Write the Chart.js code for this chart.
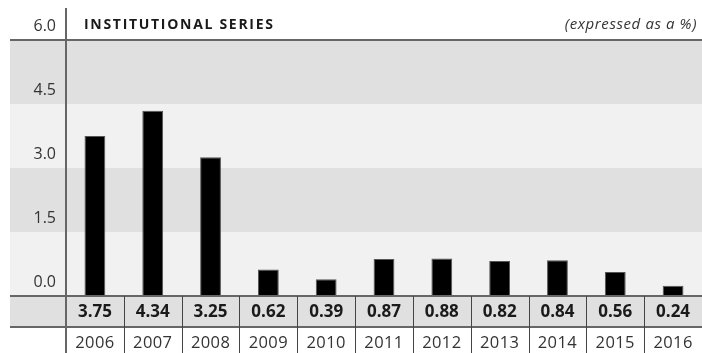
<!DOCTYPE html>
<html>
<head>
<meta charset="utf-8">
<script src="https://cdn.jsdelivr.net/npm/chart.js@4"></script>
<style>
  html, body { margin: 0; padding: 0; background: #fff; overflow: hidden; }
  #wrap { position: relative; width: 702px; height: 353px; }
</style>
</head>
<body>
<div id="wrap"><canvas id="c" width="702" height="353"></canvas></div>
<script>
// Annual rates, in percent
const years = ['2006', '2007', '2008', '2009', '2010', '2011', '2012', '2013', '2014', '2015', '2016'];
const rates = [3.75, 4.34, 3.25, 0.62, 0.39, 0.87, 0.88, 0.82, 0.84, 0.56, 0.24];
const yTicks = [0, 1.5, 3.0, 4.5, 6.0];
const titleText = 'INSTITUTIONAL SERIES';
const unitText = '(expressed as a %)';

const FONT = "'Open Sans', 'Noto Sans', sans-serif";
const LINE = '#666666';
const BAND_DARK = '#e0e0e0';
const BAND_LIGHT = '#f1f1f1';
const BAND_LEFT = 10;
const ROW_H = 31;

// Background bands, value row, rules and the table under the bars
const tablePlugin = {
  id: 'tablePlugin',
  beforeDraw(chart) {
    const { ctx, chartArea: a, scales: { y } } = chart;
    ctx.save();
    for (let i = 0; i < yTicks.length - 1; i++) {
      const top = y.getPixelForValue(yTicks[i + 1]);
      const bot = y.getPixelForValue(yTicks[i]);
      ctx.fillStyle = i % 2 === 0 ? BAND_LIGHT : BAND_DARK;
      ctx.fillRect(BAND_LEFT, top, a.right - BAND_LEFT, bot - top);
    }
    ctx.fillStyle = BAND_DARK;
    ctx.fillRect(BAND_LEFT, a.bottom, a.right - BAND_LEFT, ROW_H);
    ctx.restore();
  },
  afterDatasetsDraw(chart) {
    const { ctx, chartArea: a, scales: { x, y } } = chart;
    const H = chart.height;
    ctx.save();

    // horizontal rules
    ctx.strokeStyle = LINE;
    ctx.lineWidth = 2;
    const yTop = y.getPixelForValue(yTicks[yTicks.length - 1]);
    const yZero = y.getPixelForValue(0);
    [yTop, yZero, yZero + ROW_H].forEach(py => {
      ctx.beginPath();
      ctx.moveTo(BAND_LEFT, py);
      ctx.lineTo(a.right, py);
      ctx.stroke();
    });

    // vertical axis rule
    ctx.beginPath();
    ctx.moveTo(a.left, 8);
    ctx.lineTo(a.left, H);
    ctx.stroke();

    // column separators in the table
    ctx.strokeStyle = '#444';
    ctx.lineWidth = 1;
    for (let i = 1; i < years.length; i++) {
      const bx = Math.round((x.getPixelForValue(i - 1) + x.getPixelForValue(i)) / 2) + 0.5;
      ctx.beginPath();
      ctx.moveTo(bx, yZero);
      ctx.lineTo(bx, H);
      ctx.stroke();
    }

    // value row and year row
    ctx.textAlign = 'center';
    ctx.textBaseline = 'middle';
    for (let i = 0; i < years.length; i++) {
      const cx = x.getPixelForValue(i);
      ctx.fillStyle = '#1a1a1a';
      ctx.font = 'bold 17px ' + FONT;
      ctx.fillText(rates[i].toFixed(2), cx, yZero + ROW_H / 2 + 1);
      ctx.fillStyle = '#333';
      ctx.font = '16.5px ' + FONT;
      if ('letterSpacing' in ctx) ctx.letterSpacing = '0.4px';
      ctx.fillText(years[i], cx, yZero + ROW_H + 16);
      if ('letterSpacing' in ctx) ctx.letterSpacing = '0px';
    }

    // title and unit note
    ctx.textBaseline = 'middle';
    ctx.textAlign = 'left';
    ctx.fillStyle = '#1a1a1a';
    ctx.font = 'bold 14px ' + FONT;
    if ('letterSpacing' in ctx) ctx.letterSpacing = '1.7px';
    ctx.fillText(titleText, 84, 25);
    ctx.textAlign = 'right';
    ctx.fillStyle = '#333';
    ctx.font = 'italic 15px ' + FONT;
    if ('letterSpacing' in ctx) ctx.letterSpacing = '0.6px';
    ctx.fillText(unitText, 697, 25);
    if ('letterSpacing' in ctx) ctx.letterSpacing = '0px';
    ctx.restore();
  }
};

new Chart(document.getElementById('c'), {
  type: 'bar',
  data: {
    labels: years,
    datasets: [{
      data: rates,
      backgroundColor: '#000',
      borderColor: '#555',
      borderWidth: 1,
      barPercentage: 0.36,
      categoryPercentage: 1.0
    }]
  },
  options: {
    responsive: false,
    devicePixelRatio: 1,
    animation: false,
    layout: { padding: { top: 40, left: 0, right: 0, bottom: 0 } },
    plugins: { legend: { display: false }, tooltip: { enabled: false }, title: { display: false } },
    scales: {
      x: {
        grid: { display: false },
        border: { display: false },
        ticks: { display: false },
        afterFit(s) { s.height = 57; }
      },
      y: {
        min: 0,
        max: 6,
        afterBuildTicks(s) { s.ticks = yTicks.map(v => ({ value: v })); },
        grid: { display: false },
        border: { display: false },
        ticks: {
          padding: 2,
          labelOffset: -14,
          color: '#333',
          font: { family: FONT, size: 16 },
          callback: v => Number(v).toFixed(1)
        },
        afterFit(s) { s.width = 66; }
      }
    }
  },
  plugins: [tablePlugin]
});
</script>
</body>
</html>
